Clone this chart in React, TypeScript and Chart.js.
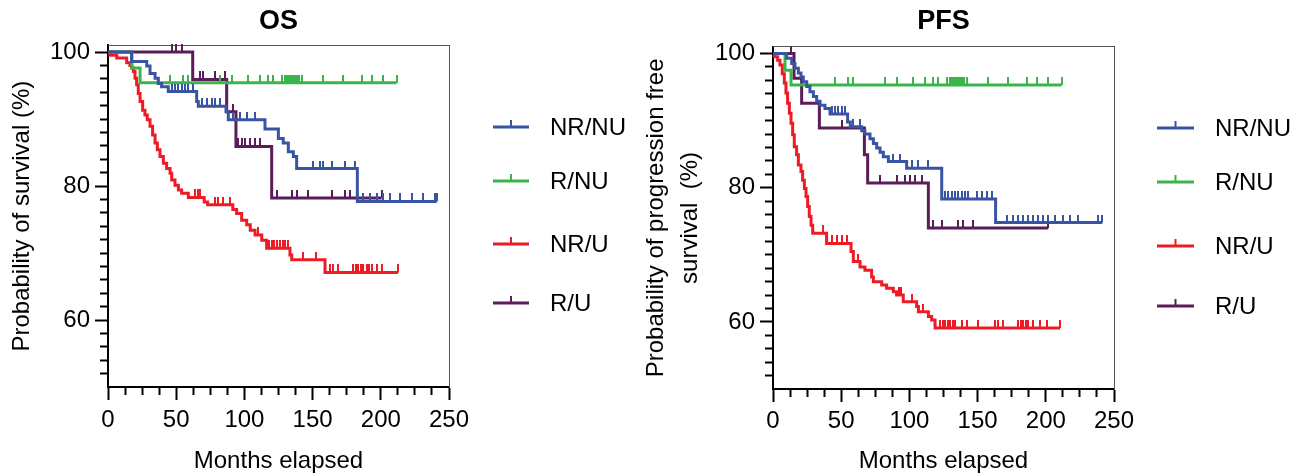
import React, { useEffect, useRef } from 'react';
import { Chart, registerables } from 'chart.js';

Chart.register(...registerables);

const FONT = '"Liberation Sans", Arial, Helvetica, sans-serif';

// ---------- shared categories / ticks ----------
const groupLabels = ['NR/NU', 'R/NU', 'NR/U', 'R/U'];
const groupColors = ['#3a54a4', '#3bb54a', '#ed1c24', '#5b1c5a'];

const xMin = 0;
const xMax = 250;
const xTickStep = 12.5;
const xLabelEvery = 50;
const yMin = 50;
const yMax = 101;
const yTickStep = 2;
const yLabelValues = [60, 80, 100];

// ---------- OS data (event times in months, survival %, censor times) ----------
const osNrNuTimes = [0, 17.3, 28.4, 30.8, 34.5, 36.9, 39.3, 44.2, 65, 66.2, 86.5, 88.2, 115.1, 124.9, 128.5, 132.2, 135.9, 138.3, 182.8];
const osNrNuSurv = [100, 98.6, 97.9, 96.8, 96.1, 95.3, 94.8, 94.1, 92.6, 91.9, 91.1, 89.9, 88.5, 87.1, 86.4, 85.1, 84.4, 82.6, 77.7];
const osNrNuCensored = [46.7, 49.1, 51.6, 54, 56.5, 58.9, 62.6, 68.7, 72.4, 76, 78.5, 82.1, 91.9, 96.8, 101.7, 107.8, 150.5, 155.4, 157.8, 163.9, 173.7, 181, 187.2, 192.1, 197, 201.8, 206.7, 214, 222.6, 231.1, 239.7, 241];

const osRNuTimes = [0, 17.5, 23.5];
const osRNuSurv = [100, 97.6, 95.4];
const osRNuCensored = [45.5, 55.2, 58.5, 82.1, 90.6, 102.9, 111.4, 117.5, 121.2, 127.3, 129.5, 131, 132.5, 134, 135.5, 137, 138.5, 140, 141.9, 157.9, 172.5, 185.9, 193.3, 201.8, 211.6];

const osNrUTimes = [0, 1.5, 6.4, 13.7, 16.1, 17.4, 18.6, 19.8, 21, 22.2, 23.5, 25.4, 27.1, 28.8, 30.8, 32.7, 34.5, 36.2, 38.1, 40.6, 43, 45.5, 46.7, 49.1, 51.6, 54, 58.9, 70.5, 73, 91.5, 94.3, 98, 101.7, 104.3, 107.8, 112.7, 116.3, 133.4, 134.7, 159.1];
const osNrUSurv = [100, 99.5, 99.1, 98.4, 98.0, 97.6, 97.1, 96.1, 95.1, 93.8, 92.6, 91.3, 90.6, 89.9, 88.9, 87.6, 86.4, 85.4, 84.4, 83.4, 82.6, 81.9, 80.9, 80.1, 79.4, 78.9, 78.3, 77.6, 77.2, 76.5, 75.9, 74.9, 74.2, 73.4, 72.7, 71.9, 70.7, 69.7, 69.0, 67.1];
const osNrUCensored = [63.8, 66, 67.4, 78.4, 80.9, 84, 89.4, 110, 118, 120, 122, 124, 126, 128, 130, 132, 142.7, 152.5, 162.8, 165.2, 168.9, 179.9, 181.7, 183.5, 185.4, 187.2, 189.6, 191.5, 193.3, 197, 200.6, 212.6];

const osRUTimes = [0, 62.1, 87, 93.8, 120];
const osRUSurv = [100, 95.9, 91.1, 85.9, 78.2];
const osRUCensored = [46.7, 49.9, 54, 67.4, 69.9, 78.5, 85.8, 91.9, 95.5, 98, 100.4, 104.1, 107.8, 111.4, 123.6, 134.6, 138.3, 146.9, 163.9, 173.7, 177.4, 200.6];

// ---------- PFS data ----------
const pfsNrNuTimes = [0, 10, 13.7, 16.1, 18.6, 20.5, 22.2, 24.7, 27.1, 29.6, 32, 34.5, 38.1, 41.8, 54.7, 56.7, 65, 67.4, 71.1, 73.6, 76, 78.5, 80.9, 84.6, 98, 123.7, 163.2];
const pfsNrNuSurv = [100, 99.3, 98.5, 97.8, 97.1, 96.5, 95.8, 95.1, 94.3, 93.6, 92.9, 92.3, 91.8, 91.0, 89.8, 89.1, 88.5, 88.0, 87.3, 86.6, 85.9, 85.3, 84.6, 83.9, 82.9, 78.3, 74.8];
const pfsNrNuCensored = [43, 45.5, 47.9, 50.3, 52.8, 58.9, 63.8, 88.2, 93.1, 101.7, 106.6, 113.9, 126.1, 128.5, 131, 133.4, 135.9, 138.3, 140.8, 143.2, 149.3, 153, 156.7, 160.3, 171.3, 176.2, 179.9, 183.5, 187.2, 190.9, 194.5, 198.2, 201.8, 206.7, 212.8, 217.7, 223.8, 238.5, 241.4];

const pfsRNuTimes = [0, 8.8, 13.2];
const pfsRNuSurv = [100, 97.5, 95.3];
const pfsRNuCensored = [45.5, 55.2, 58.5, 82.1, 90.6, 102.9, 111.4, 117.5, 121.2, 127.3, 129.5, 131, 132.5, 134, 135.5, 137, 138.5, 140, 141.9, 157.9, 172.5, 185.9, 193.3, 201.8, 211.6];

const pfsNrUTimes = [0, 1, 3.4, 5.1, 6.8, 8.3, 9.5, 10.7, 12, 13.2, 14.4, 15.6, 17.3, 18.6, 20.5, 21.7, 23, 24.2, 25.4, 26.6, 27.9, 29.1, 39.3, 57.2, 58.9, 63.8, 67.4, 72.3, 73.6, 79.7, 83.3, 88.2, 90.6, 95.5, 105.3, 106.6, 113.9, 116.3, 118.8];
const pfsNrUSurv = [100, 99.5, 99.0, 98.3, 97.0, 95.6, 94.1, 92.6, 91.1, 89.6, 87.9, 86.1, 84.9, 83.4, 82.4, 81.1, 79.9, 78.7, 77.2, 75.7, 74.4, 73.2, 71.7, 70.5, 69.0, 68.2, 67.7, 66.7, 66.0, 65.5, 65.0, 64.5, 64.0, 63.0, 62.3, 61.5, 60.8, 60.3, 59.1];
const pfsNrUCensored = [37, 43, 46.7, 50.3, 54, 62.6, 92.5, 94, 102, 110, 122.4, 124.3, 126.1, 128, 129.8, 131.6, 133.4, 138.3, 142, 150.5, 162.7, 165.2, 168.9, 179.9, 181.7, 183.5, 185.4, 187.2, 190.9, 195.7, 200.6, 210.4];

const pfsRUTimes = [0, 15.4, 21, 34, 67, 69.4, 113.9];
const pfsRUSurv = [100, 96.3, 92.6, 88.9, 84.9, 80.7, 74.0];
const pfsRUCensored = [13, 50.3, 78.5, 90.6, 96.8, 100.4, 104.1, 109, 117.5, 123.6, 135.9, 139.6, 146.9, 201.8];

// ---------- helpers ----------
type Series = { times: number[]; surv: number[]; censored: number[] };

function buildPoints(s: Series) {
  const pts = s.times.map((t, i) => ({ x: t, y: s.surv[i], censored: false }));
  for (const c of s.censored) {
    let v = s.surv[0];
    for (let i = 0; i < s.times.length; i++) if (s.times[i] <= c) v = s.surv[i];
    pts.push({ x: c, y: v, censored: true });
  }
  pts.sort((a, b) => a.x - b.x || Number(a.censored) - Number(b.censored));
  return pts;
}

function makeTickMark(color: string) {
  const c = document.createElement('canvas');
  c.width = 2;
  c.height = 16;
  const g = c.getContext('2d')!;
  g.fillStyle = color;
  g.fillRect(0, 0, 2, 8);
  return c;
}

const kmLegendPlugin = {
  id: 'kmLegend',
  afterDraw(chart: any, _args: any, opts: any) {
    const ctx = chart.ctx as CanvasRenderingContext2D;
    chart.data.datasets.forEach((ds: any, i: number) => {
      const y = opts.ys[i];
      const cx = (opts.x0 + opts.x1) / 2;
      ctx.save();
      ctx.strokeStyle = ds.borderColor;
      ctx.lineWidth = 3;
      ctx.beginPath();
      ctx.moveTo(opts.x0, y);
      ctx.lineTo(opts.x1, y);
      ctx.stroke();
      ctx.lineWidth = 2;
      ctx.beginPath();
      ctx.moveTo(cx, y);
      ctx.lineTo(cx, y - 7);
      ctx.stroke();
      ctx.fillStyle = '#000';
      ctx.font = `24px ${FONT}`;
      ctx.textAlign = 'left';
      ctx.textBaseline = 'middle';
      ctx.fillText(ds.label, opts.tx, y + 1);
      ctx.restore();
    });
  },
};

type PanelCfg = {
  title: string;
  yTitle: string | string[];
  yTitleLineHeight: number;
  yTitlePad: number;
  series: Series[];
  left: number;
  width: number;
  yAxisW: number;
  xAxisH: number;
  padRight: number;
  titlePadTop: number;
  titlePadBottom: number;
  xTickPad: number;
  legend: { x0: number; x1: number; tx: number; ys: number[] };
};

const osCfg: PanelCfg = {
  title: 'OS',
  yTitle: 'Probability of survival (%)',
  yTitleLineHeight: 1.2,
  yTitlePad: 8,
  series: [
    { times: osNrNuTimes, surv: osNrNuSurv, censored: osNrNuCensored },
    { times: osRNuTimes, surv: osRNuSurv, censored: osRNuCensored },
    { times: osNrUTimes, surv: osNrUSurv, censored: osNrUCensored },
    { times: osRUTimes, surv: osRUSurv, censored: osRUCensored },
  ],
  left: 0,
  width: 640,
  yAxisW: 108,
  xAxisH: 89,
  padRight: 191,
  titlePadTop: 5,
  titlePadBottom: 7.9,
  xTickPad: 5.6,
  legend: { x0: 493, x1: 529, tx: 550, ys: [127, 181, 244, 303] },
};

const pfsCfg: PanelCfg = {
  title: 'PFS',
  yTitle: ['Probability of progression free', 'survival  (%)'],
  yTitleLineHeight: 1.4,
  yTitlePad: 0,
  series: [
    { times: pfsNrNuTimes, surv: pfsNrNuSurv, censored: pfsNrNuCensored },
    { times: pfsRNuTimes, surv: pfsRNuSurv, censored: pfsRNuCensored },
    { times: pfsNrUTimes, surv: pfsNrUSurv, censored: pfsNrUCensored },
    { times: pfsRUTimes, surv: pfsRUSurv, censored: pfsRUCensored },
  ],
  left: 640,
  width: 664,
  yAxisW: 133,
  xAxisH: 87,
  padRight: 190,
  titlePadTop: 5,
  titlePadBottom: 9.4,
  xTickPad: 5.3,
  legend: { x0: 517, x1: 554, tx: 575, ys: [128, 182, 246, 306] },
};

function KMPanel({ cfg }: { cfg: PanelCfg }) {
  const ref = useRef<HTMLCanvasElement>(null);
  useEffect(() => {
    const canvas = ref.current!;
    const datasets = cfg.series.map((s, i) => ({
      label: groupLabels[i],
      data: buildPoints(s),
      borderColor: groupColors[i],
      backgroundColor: groupColors[i],
      borderWidth: 3,
      stepped: true,
      fill: false,
      tension: 0,
      clip: false,
      pointStyle: makeTickMark(groupColors[i]),
      pointRadius: (ctx: any) => (ctx.raw && ctx.raw.censored ? 4 : 0),
      pointHoverRadius: 0,
      pointHitRadius: 0,
      pointBorderWidth: 0,
    }));
    const isMinorX = (v: number) => v % xLabelEvery !== 0;
    const isMinorY = (v: number) => !yLabelValues.includes(v);
    const chart = new Chart(canvas, {
      type: 'line',
      data: { datasets } as any,
      options: {
        responsive: false,
        animation: false,
        events: [],
        layout: { padding: { left: 0, right: cfg.padRight, top: 0, bottom: 0 } },
        plugins: {
          legend: { display: false },
          tooltip: { enabled: false },
          title: {
            display: true,
            text: cfg.title,
            fullSize: false,
            color: '#000',
            font: { family: FONT, size: 27, weight: 'bold' },
            padding: { top: cfg.titlePadTop, bottom: cfg.titlePadBottom },
          },
          kmLegend: cfg.legend,
        } as any,
        scales: {
          x: {
            type: 'linear',
            position: 'bottom',
            min: xMin,
            max: xMax,
            afterFit: (s: any) => { s.height = cfg.xAxisH; },
            ticks: {
              stepSize: xTickStep,
              autoSkip: false,
              maxRotation: 0,
              minRotation: 0,
              padding: cfg.xTickPad,
              color: '#000',
              font: { family: FONT, size: 24 },
              callback: (v: any) => (isMinorX(Number(v)) ? '' : String(v)),
            },
            grid: {
              display: true,
              drawOnChartArea: false,
              drawTicks: true,
              tickLength: 13,
              tickWidth: 2,
              tickColor: '#000',
              tickBorderDash: (c: any) => (c.tick && isMinorX(c.tick.value) ? [7, 50] : []),
              tickBorderDashOffset: 0,
            },
            border: { display: true, color: '#000', width: 2 },
            title: {
              display: true,
              text: 'Months elapsed',
              color: '#000',
              font: { family: FONT, size: 24 },
              padding: { top: 0, bottom: 0 },
            },
          },
          y: {
            type: 'linear',
            position: 'left',
            min: yMin,
            max: yMax,
            afterFit: (s: any) => { s.width = cfg.yAxisW; },
            ticks: {
              stepSize: yTickStep,
              includeBounds: false,
              autoSkip: false,
              maxTicksLimit: 1000,
              padding: 5,
              color: '#000',
              font: { family: FONT, size: 24 },
              callback: (v: any) => (isMinorY(Number(v)) ? '' : String(v)),
            },
            grid: {
              display: true,
              drawOnChartArea: false,
              drawTicks: true,
              tickLength: 13,
              tickWidth: 2,
              tickColor: (c: any) => (c.tick && c.tick.value === yMin ? 'rgba(0,0,0,0)' : '#000'),
              tickBorderDash: (c: any) => (c.tick && isMinorY(c.tick.value) ? [7, 50] : []),
              tickBorderDashOffset: (c: any) => (c.tick && isMinorY(c.tick.value) ? 52 : 0),
            },
            border: { display: true, color: '#000', width: 2 },
            title: {
              display: true,
              text: cfg.yTitle,
              color: '#000',
              font: { family: FONT, size: 24, lineHeight: cfg.yTitleLineHeight },
              padding: { top: cfg.yTitlePad, bottom: 0 },
            },
          },
          xTop: {
            type: 'linear',
            axis: 'x',
            position: 'top',
            min: xMin,
            max: xMax,
            ticks: { display: false },
            grid: { display: false, drawTicks: false, tickLength: 0 },
            border: { display: true, color: '#555', width: 1 },
          },
          yRight: {
            type: 'linear',
            axis: 'y',
            position: 'right',
            min: yMin,
            max: yMax,
            ticks: { display: false },
            grid: { display: false, drawTicks: false, tickLength: 0 },
            border: { display: true, color: '#555', width: 1 },
          },
        } as any,
      },
      plugins: [kmLegendPlugin as any],
    });
    return () => chart.destroy();
  }, []);
  return (
    <canvas
      ref={ref}
      width={cfg.width}
      height={476}
      style={{ position: 'absolute', left: cfg.left, top: 0, width: cfg.width, height: 476 }}
    />
  );
}

export default function App() {
  return (
    <div style={{ position: 'absolute', left: 0, top: 0, width: 1304, height: 476, background: '#fff', overflow: 'hidden' }}>
      <KMPanel cfg={osCfg} />
      <KMPanel cfg={pfsCfg} />
    </div>
  );
}
